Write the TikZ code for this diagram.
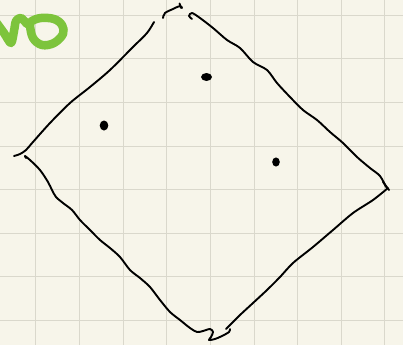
\documentclass[tikz,border=0pt]{standalone}
\definecolor{paper}{HTML}{F7F5EA}
\definecolor{gridc}{HTML}{DAD8CC}
\definecolor{inkgreen}{HTML}{7DC43C}
\tikzset{
  gridline/.style={draw=gridc, line width=0.9pt},
  ink/.style={draw=black, line width=1.9pt, line cap=round, line join=round},
  greenink/.style={draw=inkgreen, line width=8.5pt, line cap=round, line join=round},
  dotmark/.style={fill=black},
}
\begin{document}
\begin{tikzpicture}[x=1pt,y=-1pt]
\fill[paper] (0,0) rectangle (403,345);
\useasboundingbox (0,0) rectangle (403,345);
% grid
\foreach \k in {0,...,8} {
  \draw[gridline] ({35.7+43.65*\k},0) -- ({35.7+43.65*\k},345);
}
\foreach \k in {0,...,7} {
  \draw[gridline] (0,{15+43.65*\k}) -- (403,{15+43.65*\k});
}
% green letters
\begin{scope}
\clip (0,0) rectangle (403,345);
\draw[greenink] plot[smooth, tension=0.5] coordinates {(-4,22) (4,33) (11,43) (14,31) (16,21) (21,18) (27,24)};
\draw[greenink] plot[smooth cycle, tension=0.6] coordinates {(30,25) (33,38) (42,45) (54,43) (63,34) (62,25) (54,19) (41,18) (32,21)};
\end{scope}
% top-left edge
\draw[ink] plot[smooth, tension=0.5] coordinates {(14,156) (20,154) (26,150) (33,142) (50,123) (70,103) (90,87) (110,70) (133,47) (147,33) (154,22)};
% top cap piece
\draw[ink] plot[smooth, tension=0.6] coordinates {(163,18) (165,13) (173,9) (180,6) (182,8)};
\draw[ink] (179.5,3.5) -- (181,8);
% top-right edge
\draw[ink] plot[smooth, tension=0.5] coordinates {(192,19) (189,16) (192,13) (200,18) (213,28) (227,40) (240,48) (253,62) (267,70) (277,83) (290,97) (303,110) (317,120) (330,132) (343,143) (357,157) (370,168) (380,176) (386,187)};
% right vertex tick
\draw[ink] (383,182) -- (389,190);
% bottom-right edge
\draw[ink] plot[smooth, tension=0.5] coordinates {(388,188) (373,200) (353,213) (333,230) (313,247) (293,263) (280,277) (267,290) (253,303) (240,315) (230,325) (226,329)};
% bottom-left edge with squiggle
\draw[ink] plot[smooth, tension=0.5] coordinates {(26,158) (25,156) (30,160) (40,170) (48,182) (52,190) (56,197) (63,203) (72,210) (80,220) (90,230) (100,240) (110,248) (120,257) (130,270) (140,278) (150,287) (160,300) (170,312) (180,320) (190,328) (197,332) (203,331) (210,329) (213,332) (211,337) (209,340) (215,339) (222,336) (229,332) (230,329)};
% dots
\fill[dotmark] (104,125.5) ellipse [x radius=4.3, y radius=5];
\fill[dotmark] (206.5,77) ellipse [x radius=5.5, y radius=4];
\fill[dotmark] (276,162) ellipse [x radius=3.8, y radius=4.6];
\end{tikzpicture}
\end{document}
